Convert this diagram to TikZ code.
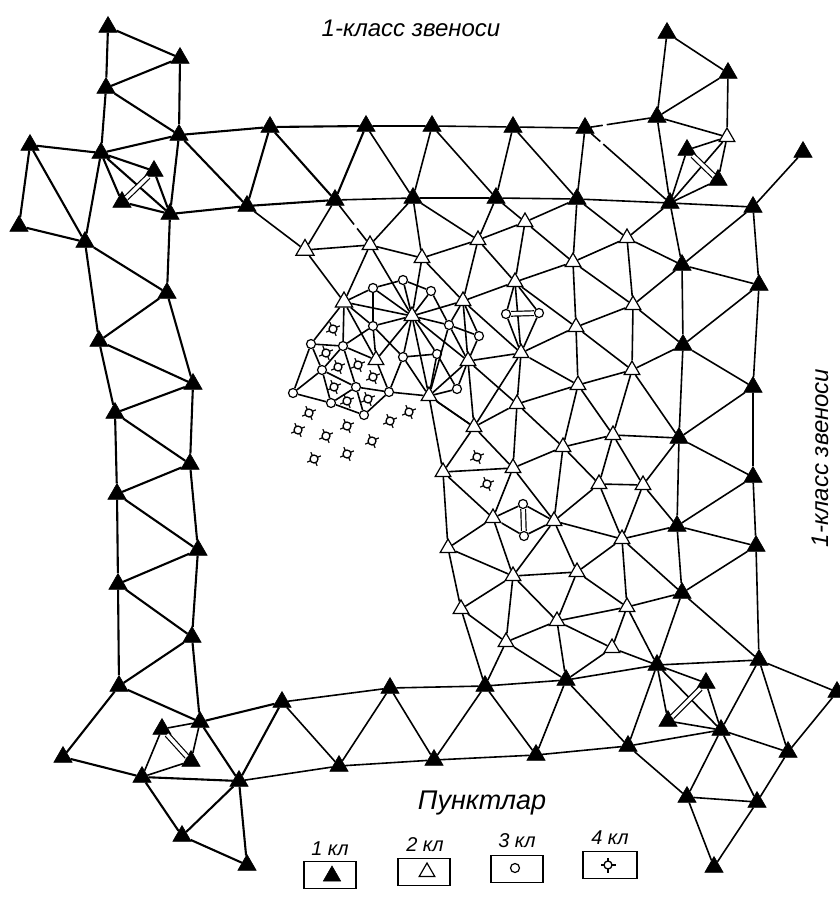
\documentclass[tikz,border=0pt]{standalone}
\usepackage{fontspec}
\setmainfont{Liberation Sans}
\usetikzlibrary{shapes.geometric,positioning}

\begin{document}
\begin{tikzpicture}[x=1pt,y=-1pt,
  kl1/.style={regular polygon,regular polygon sides=3,fill=black,draw=black,
    minimum size=21pt,inner sep=0pt,line width=0.6pt},
  kl2/.style={regular polygon,regular polygon sides=3,fill=white,draw=black,
    minimum size=18pt,inner sep=0pt,line width=1.2pt},
  kl3/.style={circle,fill=white,draw=black,minimum size=9pt,inner sep=0pt,line width=1.2pt},
  kl4/.style={circle,draw=black,minimum size=8pt,inner sep=0pt,line width=1.3pt,
    append after command={
      (\tikzlastnode.center) ++(#1:4pt) edge[draw,line width=1.2pt] +(#1:3.5pt)
      (\tikzlastnode.center) ++(#1+90:4pt) edge[draw,line width=1.2pt] +(#1+90:3.5pt)
      (\tikzlastnode.center) ++(#1+180:4pt) edge[draw,line width=1.2pt] +(#1+180:3.5pt)
      (\tikzlastnode.center) ++(#1+270:4pt) edge[draw,line width=1.2pt] +(#1+270:3.5pt)}},
  kl4/.default=25,
  zveno/.style={line width=2.1pt},
  setka/.style={line width=1.6pt},
  twin/.style={double,double distance=3.5pt,line width=1.2pt},
  legend/.style={rectangle,draw,line width=1.4pt,minimum width=52pt,minimum height=27pt},
  txt/.style={font=\itshape\fontsize{24}{24}\selectfont,inner sep=0pt},
  txts/.style={font=\itshape\fontsize{20}{20}\selectfont,inner sep=0pt}
]
\useasboundingbox (0,0) rectangle (840,919);

% 1 class, top and left
\node[kl1] (a1) at (108,27) {};
\node[kl1] (a2) at (180,58) {};
\node[kl1] (a3) at (106,88) {};
\node[kl1] (a4) at (179,135) {};
\node[kl1] (a5) at (101,153) {};
\node[kl1] (a6) at (30,145) {};
\node[kl1] (a7) at (19,226) {};
\node[kl1] (a8) at (85,242) {};
\node[kl1] (a9) at (154,171) {};
\node[kl1] (a10) at (122,202) {};
\node[kl1] (a11) at (170,214) {};
\node[kl1] (a12) at (270,127) {};
\node[kl1] (a13) at (247,206) {};
\node[kl1] (a14) at (335,200) {};
\node[kl1] (a15) at (366,126) {};
\node[kl1] (a16) at (432,126) {};
\node[kl1] (a17) at (413,198) {};
\node[kl1] (a18) at (513,127) {};
\node[kl1] (a19) at (496,198) {};
\node[kl1] (a20) at (585,128) {};
\node[kl1] (a21) at (577,199) {};
\node[kl1] (a22) at (657,117) {};
\node[kl1] (a23) at (667,33) {};
\node[kl1] (a24) at (728,73) {};
\node[kl1] (a26) at (687,150) {};
\node[kl1] (a27) at (718,180) {};
\node[kl1] (a28) at (670,203) {};
\node[kl1] (a29) at (753,207) {};
\node[kl1] (a30) at (803,152) {};
% 1 class, right
\node[kl1] (a31) at (682,265) {};
\node[kl1] (a32) at (759,285) {};
\node[kl1] (a33) at (683,345) {};
\node[kl1] (a34) at (753,387) {};
\node[kl1] (a35) at (679,438) {};
\node[kl1] (a36) at (753,477) {};
\node[kl1] (a37) at (677,526) {};
\node[kl1] (a38) at (756,546) {};
\node[kl1] (a39) at (682,593) {};
\node[kl1] (a40) at (657,665) {};
\node[kl1] (a41) at (759,660) {};
% 1 class, bottom
\node[kl1] (a42) at (485,686) {};
\node[kl1] (a43) at (566,680) {};
\node[kl1] (a44) at (706,683) {};
\node[kl1] (a45) at (668,721) {};
\node[kl1] (a46) at (721,730) {};
\node[kl1] (a47) at (628,746) {};
\node[kl1] (a48) at (837,692) {};
\node[kl1] (a49) at (788,752) {};
\node[kl1] (a50) at (687,797) {};
\node[kl1] (a51) at (757,802) {};
\node[kl1] (a52) at (714,867) {};
\node[kl1] (a53) at (536,755) {};
\node[kl1] (a54) at (434,760) {};
\node[kl1] (a55) at (390,688) {};
\node[kl1] (a56) at (339,766) {};
\node[kl1] (a57) at (282,702) {};
\node[kl1] (a58) at (239,781) {};
\node[kl1] (a59) at (247,865) {};
\node[kl1] (a60) at (182,836) {};
\node[kl1] (a61) at (142,777) {};
\node[kl1] (a62) at (63,757) {};
\node[kl1] (a63) at (191,761) {};
\node[kl1] (a64) at (162,729) {};
\node[kl1] (a65) at (200,722) {};
% 1 class, left column
\node[kl1] (a66) at (119,686) {};
\node[kl1] (a67) at (192,637) {};
\node[kl1] (a68) at (118,584) {};
\node[kl1] (a69) at (198,550) {};
\node[kl1] (a70) at (117,494) {};
\node[kl1] (a71) at (190,464) {};
\node[kl1] (a72) at (115,413) {};
\node[kl1] (a73) at (193,384) {};
\node[kl1] (a74) at (99,341) {};
\node[kl1] (a75) at (167,293) {};

% 2 class
\node[kl2] (b0) at (727,137) {};
\node[kl2,minimum size=21pt] (b1) at (305,250) {};
\node[kl2] (b2) at (370,245) {};
\node[kl2] (b3) at (422,258) {};
\node[kl2] (b4) at (478,240) {};
\node[kl2] (b5) at (525,222) {};
\node[kl2] (b6) at (573,262) {};
\node[kl2] (b7) at (627,238) {};
\node[kl2,minimum size=20pt] (b8) at (344,302) {};
\node[kl2] (b9) at (463,301) {};
\node[kl2] (b10) at (515,282) {};
\node[kl2] (b11) at (412,316) {};
\node[kl2] (b12) at (376,360) {};
\node[kl2] (b13) at (468,361) {};
\node[kl2] (b14) at (521,353) {};
\node[kl2] (b15) at (576,327) {};
\node[kl2] (b16) at (633,305) {};
\node[kl2] (b17) at (632,370) {};
\node[kl2] (b18) at (578,385) {};
\node[kl2] (b19) at (517,404) {};
\node[kl2] (b20) at (429,396) {};
\node[kl2] (b21) at (474,427) {};
\node[kl2] (b22) at (443,472) {};
\node[kl2] (b23) at (513,468) {};
\node[kl2] (b24) at (563,447) {};
\node[kl2] (b25) at (613,435) {};
\node[kl2] (b26) at (599,484) {};
\node[kl2] (b27) at (643,485) {};
\node[kl2] (b28) at (493,518) {};
\node[kl2] (b29) at (554,521) {};
\node[kl2] (b30) at (622,539) {};
\node[kl2] (b31) at (448,548) {};
\node[kl2] (b32) at (513,576) {};
\node[kl2] (b33) at (577,572) {};
\node[kl2] (b34) at (627,607) {};
\node[kl2] (b35) at (461,609) {};
\node[kl2] (b36) at (557,621) {};
\node[kl2] (b37) at (506,642) {};
\node[kl2] (b38) at (612,648) {};

% 3 class
\node[kl3] (c1) at (373,288) {};
\node[kl3] (c2) at (403,280) {};
\node[kl3] (c3) at (431,291) {};
\node[kl3] (c4) at (373,326) {};
\node[kl3] (c5) at (449,325) {};
\node[kl3] (c6) at (479,336) {};
\node[kl3] (c7) at (311,344) {};
\node[kl3] (c8) at (343,346) {};
\node[kl3] (c9) at (403,357) {};
\node[kl3] (c10) at (437,354) {};
\node[kl3] (c11) at (322,370) {};
\node[kl3] (c12) at (356,387) {};
\node[kl3] (c13) at (389,392) {};
\node[kl3] (c14) at (457,389) {};
\node[kl3] (c15) at (293,393) {};
\node[kl3] (c16) at (331,403) {};
\node[kl3] (c17) at (364,415) {};
\node[kl3] (c18) at (506,314) {};
\node[kl3] (c19) at (539,313) {};
\node[kl3] (c20) at (523,504) {};
\node[kl3] (c21) at (524,536) {};

% 4 class
\node[kl4] (d1) at (333,329) {};
\node[kl4] (d2) at (326,353) {};
\node[kl4] (d3) at (338,367) {};
\node[kl4] (d4) at (358,365) {};
\node[kl4] (d5) at (373,377) {};
\node[kl4] (d6) at (334,387) {};
\node[kl4] (d7) at (347,401) {};
\node[kl4] (d8) at (368,399) {};
\node[kl4] (d9) at (309,413) {};
\node[kl4] (d10) at (298,430) {};
\node[kl4] (d11) at (326,436) {};
\node[kl4] (d12) at (347,426) {};
\node[kl4] (d13) at (372,441) {};
\node[kl4] (d14) at (390,421) {};
\node[kl4] (d15) at (409,412) {};
\node[kl4] (d16) at (314,459) {};
\node[kl4] (d17) at (347,454) {};
\node[kl4] (d18) at (477,457) {};
\node[kl4] (d19) at (487,484) {};

% top and left belt
\draw[zveno] (a1)--(a2)--(a3)--(a1);
\draw[zveno] (a2)--(a4)--(a3)--(a5)--(a4);
\draw[zveno] (a5)--(a6)--(a7)--(a8)--(a6);
\draw[zveno] (a5)--(a8)--(a75);
\draw[zveno] (a5)--(a9)--(a11)--(a10)--(a5)--(a11);
\draw[twin] (a9)--(a10);
\draw[zveno] (a4)--(a11)--(a75);
\draw[zveno] (a4)--(a12)--(a13)--(a4);
\draw[zveno] (a11)--(a13)--(a14)--(a12)--(a15)--(a14);
\draw[setka] (a15)--(a16)--(a17)--(a15);
\draw[setka] (a14)--(a17)--(a19)--(a16)--(a18)--(a19)--(a21)--(a18)--(a20)--(a21)--(a28);
\draw[setka,dashed,dash pattern=on 12pt off 4pt on 200pt off 0pt] (a20)--(a28);
\draw[setka,dashed,dash pattern=on 12pt off 4pt on 200pt off 0pt] (a20)--(a22);
\draw[setka] (a22)--(a23)--(a24)--(a22)--(a28);
\draw[setka] (a22)--(b0)--(a24);
\draw[setka] (b0)--(a26)--(a28)--(a27)--(b0)--(a28);
\draw[twin] (a26)--(a27);
\draw[setka] (a28)--(a29)--(a30);

% left column
\draw[zveno] (a8)--(a74)--(a75)--(a73)--(a74)--(a72)--(a73)--(a71)--(a72)--(a70)--(a71)--(a69)--(a70)--(a68)--(a69)--(a67)--(a68)--(a66)--(a67)--(a65);

% bottom belt
\draw[zveno] (a66)--(a62)--(a61)--(a58);
\draw[zveno] (a66)--(a65)--(a58)--(a60)--(a61);
\draw[zveno] (a58)--(a59)--(a60);
\draw[setka] (a61)--(a64)--(a65)--(a63)--(a61);
\draw[twin] (a64)--(a63);
\draw[zveno] (a65)--(a57)--(a58);
\draw[setka] (a58)--(a56)--(a57)--(a55)--(a56)--(a54)--(a55)--(a42)--(a54)--(a53)--(a42)--(a43)--(a53)--(a47)--(a43)--(a40)--(a47)--(a46);
\draw[setka] (a40)--(a41);
\draw[setka] (a40)--(a44)--(a46)--(a40)--(a45)--(a46);
\draw[twin] (a45)--(a44);
\draw[setka] (a47)--(a50)--(a46)--(a51)--(a50)--(a52)--(a51)--(a49)--(a46)--(a41)--(a49)--(a48)--(a41);

% filling of 1 class square, right side
\draw[setka] (a13)--(b1)--(a14);
\draw[setka,dashed,dash pattern=on 24pt off 5pt] (a14)--(b2);
\draw[setka] (b2)--(a17)--(b3);
\draw[setka] (a17)--(b4)--(a19)--(b5)--(a21)--(b6);
\draw[setka] (a21)--(b7)--(a28)--(a31)--(a29)--(a32)--(a31)--(b7)--(b6)--(b5)--(b4)--(b3);
\draw[setka] (b3)--(b9)--(b4)--(b10)--(b5);
\draw[setka] (b9)--(b10)--(b6)--(b16)--(b7);
\draw[setka] (b6)--(b15)--(b16)--(a31)--(a33)--(a32)--(a34)--(a33)--(b16);
\draw[setka] (b10)--(b15)--(b14)--(b18)--(b15)--(b17)--(b16);
\draw[setka] (b17)--(a33)--(a35)--(a34)--(a36)--(a35)--(a37)--(a36)--(a38)--(a37)--(a39)--(a38)--(a41)--(a39)--(a40);
\draw[setka] (b17)--(b18)--(b19)--(b24)--(b18)--(b25)--(b17)--(a35)--(b25)--(b27)--(a35);
\draw[setka] (b25)--(b24)--(b26)--(b25);
\draw[setka] (b26)--(b27)--(a37)--(b30)--(b27);
\draw[setka] (b26)--(b29)--(b24)--(b23)--(b29);
\draw[setka] (b26)--(b30)--(b29)--(b33)--(b30)--(b34)--(a39)--(b30);
\draw[setka] (b23)--(b19)--(b21)--(b23)--(b22)--(b21)--(b20)--(b22);
\draw[setka] (b23)--(b28)--(b22)--(b31)--(b28)--(b32)--(b29);
\draw[setka] (b31)--(b32)--(b33)--(b36)--(b32)--(b35)--(b31);
\draw[setka] (b32)--(b37)--(b35)--(a42)--(b37)--(b36)--(b34)--(b33);
\draw[setka] (b36)--(a43)--(b37);
\draw[setka] (b36)--(b38)--(b34)--(a40)--(b38)--(a43);

% local filling
\draw[setka] (b1)--(b2)--(b3);
\draw[setka] (b1)--(b8)--(b2)--(b11)--(b3);
\draw[setka] (b8)--(b11)--(b9)--(b13)--(b14)--(b9);
\draw[setka] (b10)--(b14)--(b19)--(b13)--(b21)--(b14);
\draw[setka] (b11)--(b13)--(b20)--(b21);
\draw[setka] (b8)--(c1)--(c2)--(c3)--(c5)--(c6)--(b13)--(c5)--(b9)--(c6);
\draw[setka] (c1)--(b11)--(c2);
\draw[setka] (c3)--(b11)--(c5)--(b20);
\draw[setka] (c1)--(c4)--(b11)--(b12)--(c4)--(b8)--(b12)--(c8)--(c4)--(c9)--(b11)--(c10)--(c9);
\draw[setka] (b11)--(b20)--(c9)--(c13)--(b20)--(c10)--(c14)--(b20);
\draw[setka] (c14)--(b13);
\draw[setka] (b8)--(c8)--(c7)--(b8);
\draw[setka] (c7)--(c11)--(c8)--(c12)--(c11)--(c15)--(c7);
\draw[setka] (c11)--(c16)--(c15);
\draw[setka] (c16)--(c12)--(c17)--(c16);
\draw[setka] (c12)--(c13)--(c17);
\draw[setka] (b12)--(c13);
\draw[setka] (b10)--(c18)--(b14)--(c19)--(b10);
\draw[twin] (c18)--(c19);
\draw[setka] (b28)--(c20)--(b29)--(c21)--(b28);
\draw[twin] (c20)--(c21);

% inscriptions
\node[txt] (sev) at (411,28) {1-класс звеноси};
\node[txt,rotate=90] (vos) at (820,458) {1-класс звеноси};
\node[txt,font=\itshape\fontsize{27}{27}\selectfont] (punkt) at (482,803) {Пунктлар};

% legend
\node[legend] (box1) at (330,875) {};
\node[legend] (box2) at (424,872) {};
\node[legend] (box3) at (517,869) {};
\node[legend,minimum width=54pt] (box4) at (610,865) {};
\node[kl1,minimum size=20pt] (sym1) at (332,876) {};
\node[kl2,minimum size=18pt] (sym2) at (427,872) {};
\node[kl3] (sym3) at (515,868) {};
\node[kl4=0] (sym4) at (608,865) {};
\node[txts] (lab1) at (330,849) {1 кл};
\node[txts] (lab2) at (425,845) {2 кл};
\node[txts] (lab3) at (517,841) {3 кл};
\node[txts] (lab4) at (610,838) {4 кл};
\end{tikzpicture}
\end{document}
